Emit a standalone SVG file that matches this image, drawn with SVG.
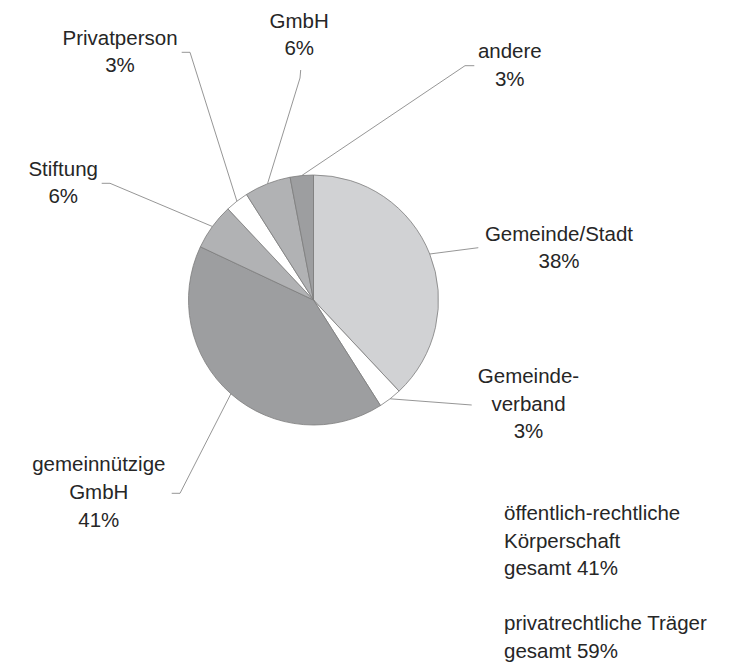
<svg xmlns="http://www.w3.org/2000/svg" width="733" height="667" viewBox="0 0 733 667">
<style>
.s{stroke:#7c7c7c;stroke-width:0.8;stroke-linejoin:round}
.l{fill:none;stroke:#8a8a8a;stroke-width:0.9}
text{font-family:"Liberation Sans",Arial,sans-serif;font-size:20.5px;fill:#262626}
.c{text-anchor:middle}
</style>
<rect width="733" height="667" fill="#fff"/>
<g id="pie">
<path id="slice-gemeinde-stadt" class="s" fill="#d1d2d4" d="M313.5,300 L313.5,175 A125,125 0 0 1 399.06,391.13 Z"/>
<path id="slice-gemeindeverband" class="s" fill="#ffffff" d="M313.5,300 L399.06,391.13 A125,125 0 0 1 380.48,405.54 Z"/>
<path id="slice-gemeinnuetzige" class="s" fill="#9d9ea0" d="M313.5,300 L380.48,405.54 A125,125 0 0 1 200.4,246.78 Z"/>
<path id="slice-stiftung" class="s" fill="#b1b2b4" d="M313.5,300 L200.4,246.78 A125,125 0 0 1 227.94,208.87 Z"/>
<path id="slice-privatperson" class="s" fill="#ffffff" d="M313.5,300 L227.94,208.87 A125,125 0 0 1 246.52,194.46 Z"/>
<path id="slice-gmbh" class="s" fill="#b1b2b4" d="M313.5,300 L246.52,194.46 A125,125 0 0 1 290.08,177.21 Z"/>
<path id="slice-andere" class="s" fill="#9d9ea0" d="M313.5,300 L290.08,177.21 A125,125 0 0 1 313.5,175 Z"/>
</g>
<g id="connectors">
<polyline class="l" points="429.7,254 478.3,247.7"/>
<polyline class="l" points="390.1,398.8 471.7,405"/>
<polyline class="l" points="230.9,393.8 180,493.3 171.7,493.3"/>
<polyline class="l" points="212.4,226.5 110,183.3 101.7,183.3"/>
<polyline class="l" points="236.9,201.2 190,52.3 181.7,52.3"/>
<polyline class="l" points="267.5,183.8 300,78 300.7,70"/>
<polyline class="l" points="301.7,175.6 465,65.7 474.3,65.7"/>
</g>
<g id="label-gemeinde-stadt"><text class="c" x="559" y="241">Gemeinde/Stadt</text><text class="c" x="559" y="268">38%</text></g>
<g id="label-gemeindeverband"><text class="c" x="528.5" y="383">Gemeinde-</text><text class="c" x="528.5" y="410.5">verband</text><text class="c" x="528.5" y="438">3%</text></g>
<g id="label-gemeinnuetzige"><text class="c" x="98.8" y="471">gemeinnützige</text><text class="c" x="98.8" y="499">GmbH</text><text class="c" x="98.8" y="526.5">41%</text></g>
<g id="label-stiftung"><text class="c" x="63.2" y="175.5">Stiftung</text><text class="c" x="63.2" y="203">6%</text></g>
<g id="label-privatperson"><text class="c" x="120" y="44.5">Privatperson</text><text class="c" x="120" y="72">3%</text></g>
<g id="label-gmbh"><text class="c" x="299.2" y="27.5">GmbH</text><text class="c" x="299.2" y="55">6%</text></g>
<g id="label-andere"><text class="c" x="509.8" y="57.5">andere</text><text class="c" x="509.8" y="85.5">3%</text></g>
<g id="legend">
<text x="504" y="520">öffentlich-rechtliche</text>
<text x="504" y="547.5">Körperschaft</text>
<text x="504" y="575">gesamt 41%</text>
<text x="504" y="630">privatrechtliche Träger</text>
<text x="504" y="657.5">gesamt 59%</text>
</g>
</svg>
